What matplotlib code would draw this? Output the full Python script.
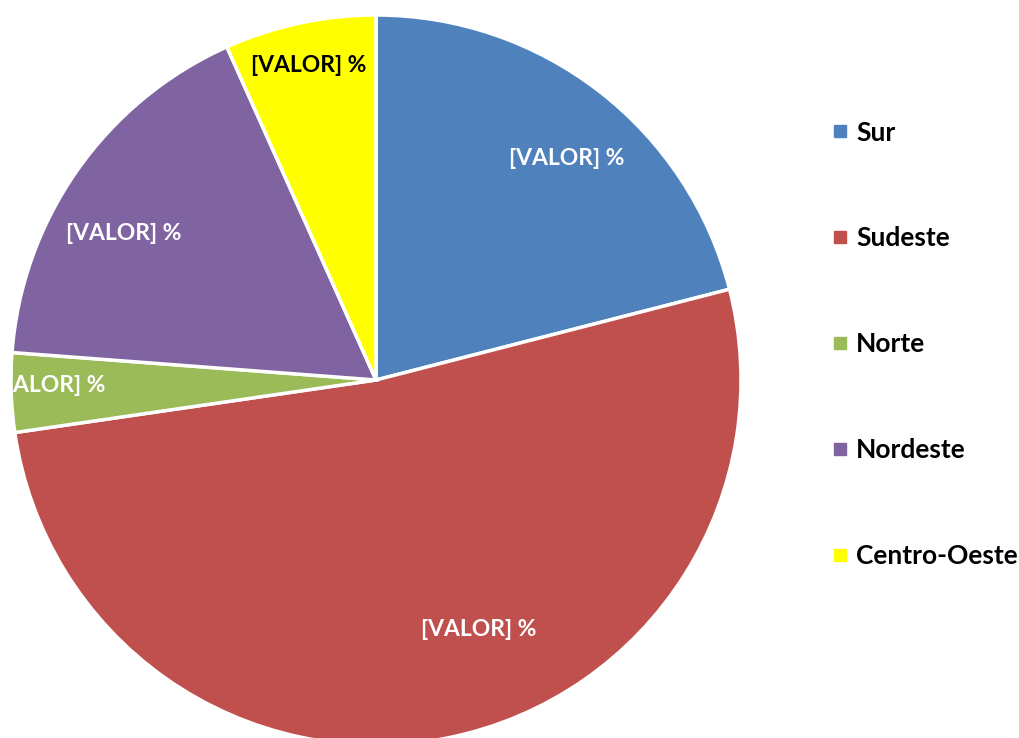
import numpy as np
import matplotlib
matplotlib.use("Agg")
from matplotlib import pyplot as plt
from matplotlib.lines import Line2D

# datos por región (porcentajes)
regiones = ['Sur', 'Sudeste', 'Norte', 'Nordeste', 'Centro-Oeste']
valores = [21.0, 51.7, 3.5, 17.1, 6.7]
etiquetas = ['[VALOR] %'] * 5
colores = ['#4F81BD', '#C0504D', '#9BBB59', '#8064A2', '#FFFF00']
color_texto = ['white', 'white', 'white', 'white', 'black']
# posición de la etiqueta: (distancia relativa, desplazamiento angular)
pos_etiqueta = [(0.80, -3), (0.74, 11), (0.90, -1), (0.80, 5), (0.88, 0)]

plt.rcParams['font.family'] = ['Lato', 'DejaVu Sans']

fig = plt.figure(figsize=(10.19, 7.38), dpi=100)
ax = fig.add_axes([11 / 1019, -7 / 738, 730 / 1019, 730 / 738])

wedges, _ = ax.pie(valores, colors=colores, startangle=90, counterclock=False,
                   radius=1, wedgeprops=dict(edgecolor='white', linewidth=2.5))
ax.set_xlim(-1.0, 1.0)
ax.set_ylim(-1.0, 1.0)
ax.set_aspect('equal')
ax.axis('off')

for w, txt, col, (d, off) in zip(wedges, etiquetas, color_texto, pos_etiqueta):
    ang = np.deg2rad((w.theta1 + w.theta2) / 2 + off)
    ax.text(d * np.cos(ang), d * np.sin(ang), txt, ha='center', va='center',
            color=col, fontsize=16.5, fontweight='bold')

handles = [Line2D([], [], marker='s', linestyle='none', markersize=9,
                  markerfacecolor=c, markeredgecolor=c) for c in colores]
fig.legend(handles, regiones, loc='upper left', bbox_to_anchor=(818 / 1019, 1 - 110 / 738),
           frameon=False, prop=dict(size=19, weight='bold'), labelspacing=3.1,
           handletextpad=0.15, handlelength=0.9, borderaxespad=0)

fig.savefig('out.png', dpi=100)
